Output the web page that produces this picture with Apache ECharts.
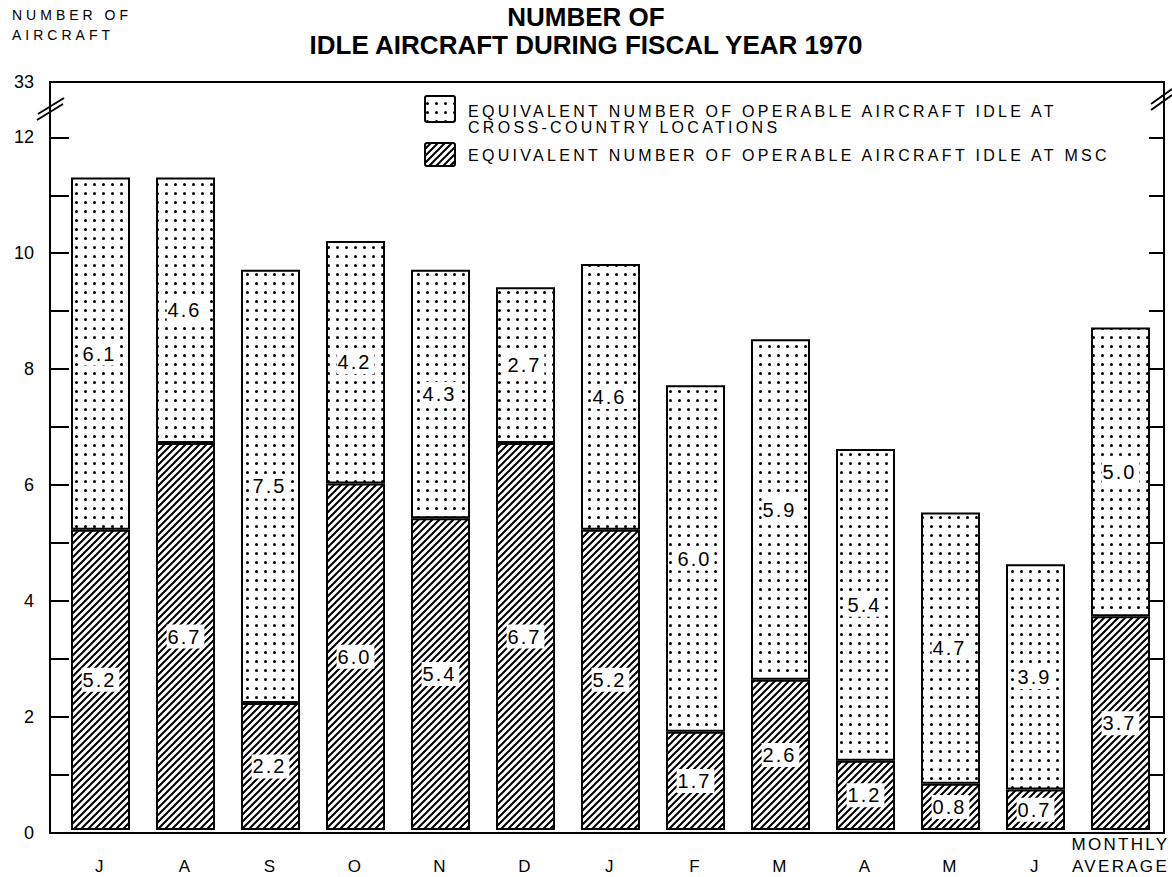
<!DOCTYPE html>
<html lang="en">
<head>
<meta charset="UTF-8">
<title>Number of idle aircraft during fiscal year 1970</title>
<script src="https://cdn.jsdelivr.net/npm/echarts@6.0.0/dist/echarts.min.js"></script>
<style>
    html, body { margin: 0; padding: 0; background: #fff; }
    #main { width: 1172px; height: 877px; }
    /* the old typeset look is widely letter-spaced; pick texts by their size */
    #main text[style*="14px"] { letter-spacing: 4px; }
    #main text[style*="16px"] { letter-spacing: 3.3px; }
    #main text[style*="17px"] { letter-spacing: 2.3px; }
    #main text[style*="20px"] { letter-spacing: 2px; }
</style>
</head>
<body>
<div id="main"></div>
<script>
// months of fiscal year 1970, plus the monthly average
var months = ['J', 'A', 'S', 'O', 'N', 'D', 'J', 'F', 'M', 'A', 'M', 'J', 'MONTHLY\nAVERAGE'];
// idle at MSC (hatched, bottom of each bar)
var idleMsc = [5.2, 6.7, 2.2, 6.0, 5.4, 6.7, 5.2, 1.7, 2.6, 1.2, 0.8, 0.7, 3.7];
// idle at cross-country locations (dotted, top of each bar)
var idleCross = [6.1, 4.6, 7.5, 4.2, 4.3, 2.7, 4.6, 6.0, 5.9, 5.4, 4.7, 3.9, 5.0];
// y axis: ticks every unit, labels every two, broken between 12 and 33
var yTicks = [0, 1, 2, 3, 4, 5, 6, 7, 8, 9, 10, 11, 12];
var yLabels = [0, 2, 4, 6, 8, 10, 12, 33];
var yBreakStart = 12.5;
var yMax = 33;

var nameCross = 'EQUIVALENT NUMBER OF OPERABLE AIRCRAFT IDLE AT\nCROSS-COUNTRY LOCATIONS';
var nameMsc = 'EQUIVALENT NUMBER OF OPERABLE AIRCRAFT IDLE AT MSC';
var FONT = 'Liberation Sans';

// fill patterns drawn once on small tiles
function tile(w, h, draw) {
    var c = document.createElement('canvas');
    c.width = w; c.height = h;
    var ctx = c.getContext('2d');
    ctx.fillStyle = '#fff';
    ctx.fillRect(0, 0, w, h);
    ctx.fillStyle = '#000';
    ctx.strokeStyle = '#000';
    draw(ctx);
    return { image: c.toDataURL(), repeat: 'repeat', imageWidth: w, imageHeight: h };
}
var hatch = tile(7, 7, function (ctx) {
    ctx.lineWidth = 2;
    ctx.beginPath();
    ctx.moveTo(-1, 8); ctx.lineTo(8, -1);
    ctx.moveTo(-2, 2); ctx.lineTo(2, -2);
    ctx.moveTo(5, 9); ctx.lineTo(9, 5);
    ctx.stroke();
});
var dots = tile(9, 9, function (ctx) {
    ctx.beginPath();
    ctx.arc(4.5, 4.5, 1.5, 0, Math.PI * 2);
    ctx.fill();
});

function valueAxis(extra) {
    var ax = {
        type: 'value',
        min: 0,
        max: yMax,
        breaks: [{ start: yBreakStart, end: yMax, gap: '3.5%' }],
        breakArea: { show: false },
        splitLine: { show: false }
    };
    for (var k in extra) ax[k] = extra[k];
    return ax;
}

var barLabel = {
    show: true,
    position: 'inside',
    formatter: function (p) { return p.value.toFixed(1); },
    color: '#000',
    fontFamily: FONT,
    fontSize: 20,
    backgroundColor: '#fff',
    padding: [3, 6, 1, 4]
};

var chart = echarts.init(document.getElementById('main'), null, { renderer: 'svg' });

var option = {
    animation: false,
    backgroundColor: '#fff',
    title: {
        text: 'NUMBER OF\nIDLE AIRCRAFT DURING FISCAL YEAR 1970',
        left: 'center',
        top: 3,
        padding: 0,
        textStyle: { fontFamily: FONT, fontSize: 26, fontWeight: 'bold', lineHeight: 28, color: '#000' }
    },
    grid: [
        // frame with the two value axes
        { left: 50, right: 8, top: 82, bottom: 44, show: true, borderColor: '#000', borderWidth: 2 },
        // bars
        { left: 58, right: 9, top: 82, bottom: 44 }
    ],
    xAxis: [
        { gridIndex: 0, type: 'value', min: 0, max: 1, show: false },
        {
            gridIndex: 1,
            type: 'category',
            data: months,
            axisLine: { show: false },
            axisTick: { show: false },
            axisLabel: {
                interval: 0,
                color: '#000',
                fontFamily: FONT,
                fontSize: 17,
                lineHeight: 22,
                verticalAlign: 'bottom',
                margin: 47
            }
        }
    ],
    yAxis: [
        valueAxis({
            gridIndex: 0,
            position: 'left',
            axisLine: { show: true, lineStyle: { color: '#000', width: 2 } },
            axisTick: { show: true, inside: true, length: 19, customValues: yTicks, lineStyle: { color: '#000', width: 2 } },
            axisLabel: { customValues: yLabels, color: '#000', fontFamily: FONT, fontSize: 18, margin: 16 }
        }),
        valueAxis({
            gridIndex: 0,
            position: 'right',
            axisLine: { show: true, lineStyle: { color: '#000', width: 2 } },
            axisTick: { show: true, inside: true, length: 15, customValues: yTicks, lineStyle: { color: '#000', width: 2 } },
            axisLabel: { show: false }
        }),
        valueAxis({ gridIndex: 1, show: false })
    ],
    series: [
        {
            name: nameMsc,
            type: 'bar',
            stack: 'idle',
            xAxisIndex: 1,
            yAxisIndex: 2,
            barWidth: 59,
            data: idleMsc,
            itemStyle: { color: hatch, borderColor: '#000', borderWidth: 2 },
            emphasis: { disabled: true },
            label: barLabel
        },
        {
            name: nameCross,
            type: 'bar',
            stack: 'idle',
            xAxisIndex: 1,
            yAxisIndex: 2,
            barWidth: 59,
            data: idleCross,
            itemStyle: { color: dots, borderColor: '#000', borderWidth: 2 },
            emphasis: { disabled: true },
            label: barLabel
        }
    ],
    graphic: [
        // y axis title, top left
        {
            type: 'text', left: 12, top: 5,
            style: { text: 'NUMBER OF\nAIRCRAFT', fontFamily: FONT, fontSize: 14, lineHeight: 20, fill: '#000' }
        },
        // legend
        {
            type: 'rect', shape: { x: 425, y: 96, width: 30, height: 26, r: 2 },
            style: { fill: dots, stroke: '#000', lineWidth: 2 }
        },
        {
            type: 'text', x: 468, y: 103,
            style: { text: nameCross, fontFamily: FONT, fontSize: 16, lineHeight: 16, fill: '#000' }
        },
        {
            type: 'rect', shape: { x: 425, y: 143, width: 30, height: 23, r: 2 },
            style: { fill: hatch, stroke: '#000', lineWidth: 2 }
        },
        {
            type: 'text', x: 468, y: 147,
            style: { text: nameMsc, fontFamily: FONT, fontSize: 16, lineHeight: 16, fill: '#000' }
        },
        // break marks on the two value axes
        { type: 'line', shape: { x1: 37, y1: 120, x2: 63, y2: 104 }, style: { stroke: '#000', lineWidth: 2 } },
        { type: 'line', shape: { x1: 38, y1: 114, x2: 64, y2: 98 }, style: { stroke: '#000', lineWidth: 2 } },
        { type: 'line', shape: { x1: 1151, y1: 110, x2: 1172, y2: 95 }, style: { stroke: '#000', lineWidth: 2 } },
        { type: 'line', shape: { x1: 1151, y1: 104, x2: 1172, y2: 89 }, style: { stroke: '#000', lineWidth: 2 } }
    ]
};

chart.setOption(option);
</script>
</body>
</html>
